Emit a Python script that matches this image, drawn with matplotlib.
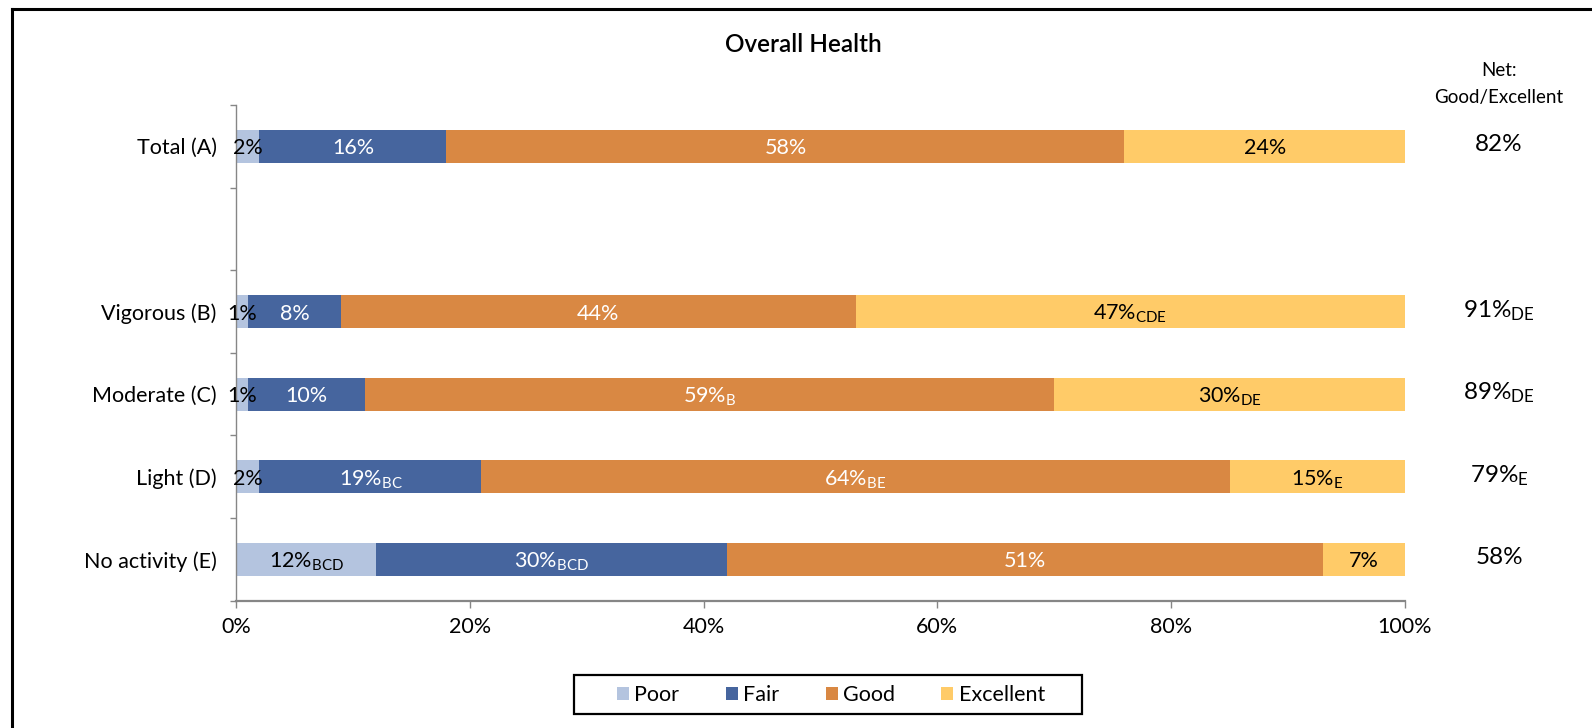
import numpy as np
import matplotlib
matplotlib.use("Agg")
import matplotlib.pyplot as plt
from matplotlib.patches import Patch, Rectangle
from matplotlib.lines import Line2D
from matplotlib.transforms import blended_transform_factory

plt.rcParams["font.family"] = ["Lato", "DejaVu Sans"]
plt.rcParams["mathtext.fontset"] = "custom"
plt.rcParams["mathtext.rm"] = "Lato"
plt.rcParams["mathtext.it"] = "Lato:italic"
plt.rcParams["mathtext.bf"] = "Lato:bold"

# ---- data -------------------------------------------------------------
categories = ["Total (A)", "Vigorous (B)", "Moderate (C)", "Light (D)", "No activity (E)"]
series = ["Poor", "Fair", "Good", "Excellent"]
poor = [2, 1, 1, 2, 12]
fair = [16, 8, 10, 19, 30]
good = [58, 44, 59, 64, 51]
excellent = [24, 47, 30, 15, 7]
# significance letters shown as subscripts
poor_sig = ["", "", "", "", "BCD"]
fair_sig = ["", "", "", "BC", "BCD"]
good_sig = ["", "", "B", "BE", ""]
excellent_sig = ["", "CDE", "DE", "E", ""]
net_sig = ["", "DE", "DE", "E", ""]
x_ticks = [0, 20, 40, 60, 80, 100]

colors = ["#B4C4DF", "#46659E", "#D98843", "#FFCB68"]
label_colors = ["black", "white", "white", "black"]

FS = 15.5

W, H = 1592, 728
fig = plt.figure(figsize=(W / 100, H / 100), dpi=100)
ax = fig.add_axes([236 / W, 1 - 600.7 / H, (1405 - 236) / W, (600.7 - 105) / H])

# Total sits alone, followed by an empty slot before the activity groups
idx = np.arange(len(categories))
ypos = idx + (idx > 0)


def fmt(v, sig):
    if sig:
        return f"{v}%$_{{\\mathrm{{{sig}}}}}$"
    return f"{v}%"


left = np.zeros(len(categories))
for vals, sigs, col, lcol, name in zip(
    [poor, fair, good, excellent],
    [poor_sig, fair_sig, good_sig, excellent_sig],
    colors, label_colors, series,
):
    vals = np.array(vals, dtype=float)
    ax.barh(ypos, vals, left=left, height=0.4, color=col, label=name,
            edgecolor="none")
    for y, l, v, s in zip(ypos, left, vals, sigs):
        ax.text(l + v / 2, y, fmt(int(v), s), ha="center", va="center_baseline",
                color=lcol, fontsize=FS)
    left += vals

# net good/excellent column
net = np.array(good) + np.array(excellent)
tr = blended_transform_factory(fig.transFigure, ax.transData)
for y, n, s in zip(ypos, net, net_sig):
    ax.text(1499 / W, y - 0.05, fmt(int(n), s), transform=tr, ha="center",
            va="center_baseline", fontsize=17.5, color="black")
fig.text(1499 / W, 1 - 70 / H, "Net:", ha="center", va="center", fontsize=13.5)
fig.text(1499 / W, 1 - 98 / H, "Good/Excellent", ha="center", va="center", fontsize=13.5)

fig.text(803 / W, 1 - 44 / H, "Overall Health", ha="center", va="center",
         fontsize=17.5, fontweight="semibold")

# axes styling
ax.set_xlim(0, 100)
ax.set_ylim(5.5, -0.5)
ax.set_xticks(x_ticks)
ax.set_xticklabels([f"{t}%" for t in x_ticks])
ax.set_yticks(ypos)
ax.set_yticklabels(categories)
ax.set_yticks(np.arange(-0.5, 6, 1.0), minor=True)
ax.tick_params(axis="y", which="major", length=0, pad=14, labelsize=FS)
ax.tick_params(axis="y", which="minor", length=4, width=1.0, color="#868686")
ax.tick_params(axis="x", which="major", length=5, width=1.0, color="#868686",
               pad=7, labelsize=FS)
for side in ["top", "right"]:
    ax.spines[side].set_visible(False)
ax.spines["left"].set_color("#868686")
ax.spines["left"].set_linewidth(1.0)
ax.spines["bottom"].set_color("#868686")
ax.spines["bottom"].set_linewidth(1.6)

# legend entries with a separately drawn box
handles = [Patch(facecolor=c, edgecolor="none") for c in colors]
fig.legend(handles, series, loc="center", bbox_to_anchor=(831 / W, 1 - 695 / H),
           ncol=4, frameon=False, fontsize=FS,
           handlelength=0.56, handleheight=0.55, handletextpad=0.25,
           columnspacing=2.15, borderpad=0, borderaxespad=0)
fig.add_artist(Rectangle((574 / W, 1 - 714 / H), (1082 - 574) / W, 39 / H,
                         transform=fig.transFigure, fill=False,
                         edgecolor="black", lw=1.6))

# outer frame (top and left edges visible)
fig.add_artist(Line2D([12.5 / W, 1.01], [1 - 9 / H] * 2, transform=fig.transFigure,
                      color="black", lw=2.2))
fig.add_artist(Line2D([12.5 / W] * 2, [-0.01, 1 - 9 / H], transform=fig.transFigure,
                      color="black", lw=2.2))

fig.savefig("out.png", dpi=100)
